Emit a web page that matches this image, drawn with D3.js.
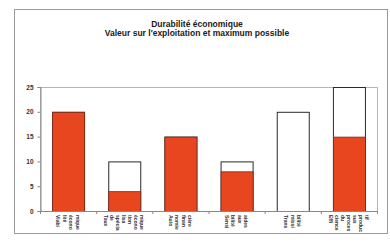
<!DOCTYPE html>
<html>
<head>
<meta charset="utf-8">
<script src="https://cdn.jsdelivr.net/npm/d3@7"></script>
<style>
  body { margin: 0; background: #fff; }
  text { font-family: "Liberation Sans", Arial, sans-serif; }
</style>
</head>
<body>
<div id="chart"></div>
<script>
// indicateurs IDEA, échelle économique
const categories = [
  "Viabilité économique",
  "Taux de spécialisation économique",
  "Autonomie financière",
  "Sensibilité aux aides",
  "Transmissibilité",
  "Efficience du processus productif"
];
// lines of the rotated labels under each bar
const labelLines = [
  ["Viabi", "lité", "écono", "mique"],
  ["Taux", "de", "spécia", "lisa", "tion", "écono", "mique"],
  ["Auto", "nomie", "finan", "cière"],
  ["Sensi", "bilité", "aux", "aides"],
  ["Trans", "missi", "bilité"],
  ["Effi", "cience", "du", "proces", "sus", "produc", "tif"]
];
const valeur = [20, 4, 15, 8, 0, 15];
const maximum = [20, 10, 15, 10, 20, 25];
const yTicks = [0, 5, 10, 15, 20, 25];

const width = 390, height = 249;
const plot = { left: 40, right: 377, top: 87, bottom: 211 };

const svg = d3.select('#chart')
  .append('svg')
  .attr('width', width)
  .attr('height', height);

// outer frame
svg.append('rect')
  .attr('x', 14.5).attr('y', 9.5)
  .attr('width', 373).attr('height', 224)
  .attr('fill', '#fff')
  .attr('stroke', '#9a9a9a');

// title
const titles = ['Durabilité économique', "Valeur sur l'exploitation et maximum possible"];
svg.append('g').selectAll('text')
  .data(titles)
  .join('text')
  .attr('x', 197)
  .attr('y', (d, i) => 27 + i * 9)
  .attr('text-anchor', 'middle')
  .attr('font-size', 8.5)
  .attr('font-weight', 'bold')
  .attr('fill', '#1a1a1a')
  .text(d => d);

const x = d3.scaleBand()
  .domain(categories)
  .range([plot.left, plot.right])
  .paddingInner(0.43)
  .paddingOuter(0.215);

const y = d3.scaleLinear()
  .domain([0, 25])
  .range([plot.bottom, plot.top]);

// plot area border
svg.append('rect')
  .attr('x', plot.left + 0.5).attr('y', plot.top + 0.5)
  .attr('width', plot.right - plot.left).attr('height', plot.bottom - plot.top)
  .attr('fill', 'none')
  .attr('stroke', '#b5b5b5');

const rows = categories.map((c, i) => ({ c, v: valeur[i], m: maximum[i] }));

// maximum possible (white, behind)
svg.append('g').selectAll('rect')
  .data(rows)
  .join('rect')
  .attr('x', d => x(d.c) + 0.5)
  .attr('y', d => y(d.m) + 0.5)
  .attr('width', x.bandwidth())
  .attr('height', d => y(0) - y(d.m))
  .attr('fill', '#fff')
  .attr('stroke', '#2a2a2a');

// valeur sur l'exploitation (red, in front)
svg.append('g').selectAll('rect')
  .data(rows.filter(d => d.v > 0))
  .join('rect')
  .attr('x', d => x(d.c) + 0.5)
  .attr('y', d => y(d.v) + 0.5)
  .attr('width', x.bandwidth())
  .attr('height', d => y(0) - y(d.v))
  .attr('fill', '#e8461f')
  .attr('stroke', '#7a2a18')
  .attr('stroke-width', 0.8);

// y axis
const yAxis = svg.append('g')
  .attr('transform', `translate(${plot.left + 0.5},0)`)
  .call(d3.axisLeft(y).tickValues(yTicks).tickSize(3).tickPadding(4));
yAxis.select('.domain').attr('stroke', '#888');
yAxis.selectAll('.tick line').attr('stroke', '#888');
yAxis.selectAll('.tick text')
  .attr('font-size', 6.5).attr('font-weight', 'bold').attr('fill', '#333')
  .attr('font-family', '"Liberation Sans", Arial, sans-serif');

// x axis line and boundary ticks
svg.append('line')
  .attr('x1', plot.left).attr('x2', plot.right)
  .attr('y1', plot.bottom + 0.5).attr('y2', plot.bottom + 0.5)
  .attr('stroke', '#888');
svg.append('g').selectAll('line')
  .data(d3.range(categories.length + 1))
  .join('line')
  .attr('x1', i => plot.left + i * x.step() + 0.5)
  .attr('x2', i => plot.left + i * x.step() + 0.5)
  .attr('y1', plot.bottom).attr('y2', plot.bottom + 3)
  .attr('stroke', '#888');

// rotated category labels
const labelG = svg.append('g');
categories.forEach((c, i) => {
  const lines = labelLines[i];
  const center = x(c) + x.bandwidth() / 2;
  const gap = lines.length > 4 ? 6 : 6.5;
  const start = center - gap * (lines.length - 1) / 2;
  lines.forEach((ln, j) => {
    labelG.append('text')
      .attr('transform', `translate(${start + j * gap - 2},215) rotate(90)`)
      .attr('font-size', 5)
      .attr('font-weight', 'bold')
      .attr('fill', '#333')
      .text(ln);
  });
});
</script>
</body>
</html>
